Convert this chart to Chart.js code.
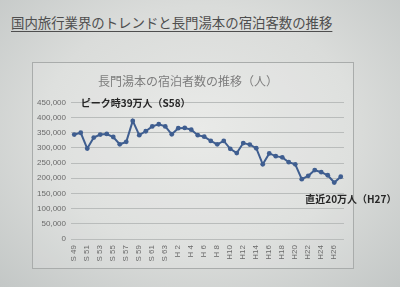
<!DOCTYPE html>
<html>
<head>
<meta charset="utf-8">
<title>長門湯本の宿泊者数の推移</title>
<script src="https://cdn.jsdelivr.net/npm/chart.js"></script>
<style>
  html, body { margin: 0; padding: 0; }
  body {
    width: 400px; height: 287px; overflow: hidden; position: relative;
    background: radial-gradient(ellipse at 50% 45%, #e6e7e5 0%, #dadcda 55%, #c3c7c6 100%);
    font-family: "Noto Sans CJK JP", sans-serif;
  }
  #slideTitle {
    position: absolute; left: 11px; top: 12px;
    font-size: 13.4px; color: #4e4e4e; text-decoration: underline;
    text-underline-offset: 3px; white-space: nowrap; letter-spacing: 0;
  }
  #wrap { position: absolute; left: 0; top: 0; width: 400px; height: 287px; }
</style>
</head>
<body>
<div id="slideTitle">国内旅行業界のトレンドと長門湯本の宿泊客数の推移</div>
<div id="wrap"><canvas id="stayChart" width="400" height="287"></canvas></div>
<script>
// 年度ラベル（昭和49年〜平成27年）
const years = [
  'S 49','S 50','S 51','S 52','S 53','S 54','S 55','S 56','S 57','S 58',
  'S 59','S 60','S 61','S 62','S 63',
  'H 1','H 2','H 3','H 4','H 5','H 6','H 7','H 8','H 9','H10',
  'H11','H12','H13','H14','H15','H16','H17','H18','H19','H20',
  'H21','H22','H23','H24','H25','H26','H27'
];
// 宿泊者数（人）— 図から読み取り
const guests = [
  344000, 350000, 298000, 334000, 344000, 346000, 336000, 312000, 320000, 389000,
  342000, 355000, 371000, 378000, 371000,
  345000, 365000, 366000, 360000, 342000, 337000, 323000, 312000, 323000, 297000,
  283000, 316000, 311000, 299000, 246000, 282000, 273000, 269000, 253000, 246000,
  197000, 208000, 227000, 220000, 210000, 186000, 205000
];
const yTicks = [0, 50000, 100000, 150000, 200000, 250000, 300000, 350000, 400000, 450000];
const peakNote = 'ピーク時39万人（S58）';
const recentNote = '直近20万人（H27）';

const lineBlue = '#3f5e90';

// 枠線と注記
const framePlugin = {
  id: 'frame',
  beforeDraw(chart) {
    const c = chart.ctx;
    c.save();
    c.fillStyle = 'rgba(255,255,255,0.12)';
    c.fillRect(32, 62, 321, 206);
    c.strokeStyle = '#a9acab';
    c.lineWidth = 1;
    c.strokeRect(32.5, 62.5, 321, 206);
    c.restore();
  },
  afterDraw(chart) {
    const c = chart.ctx;
    const x = chart.scales.x, y = chart.scales.y;
    c.save();
    c.fillStyle = '#262626';
    c.font = 'bold 10px "Noto Sans CJK JP", sans-serif';
    c.textBaseline = 'middle';
    c.textAlign = 'left';
    c.fillText(peakNote, x.getPixelForValue(1), y.getPixelForValue(448000));
    c.fillText(recentNote, x.getPixelForValue(36) - 3, y.getPixelForValue(130000));
    c.restore();
  }
};

new Chart(document.getElementById('stayChart'), {
  type: 'line',
  data: {
    labels: years,
    datasets: [{
      data: guests,
      borderColor: lineBlue,
      backgroundColor: lineBlue,
      borderWidth: 2,
      pointRadius: 2.4,
      pointBorderWidth: 0,
      pointBackgroundColor: lineBlue,
      tension: 0
    }]
  },
  options: {
    responsive: false,
    animation: false,
    devicePixelRatio: 1,
    layout: { padding: { left: 32, right: 56, top: 62, bottom: 19 } },
    plugins: {
      legend: { display: false },
      tooltip: { enabled: false },
      title: {
        display: true,
        text: '長門湯本の宿泊者数の推移（人）',
        color: '#7d7d7d',
        font: { family: '"Noto Sans CJK JP", sans-serif', size: 12, weight: 'normal', lineHeight: 1.2 },
        padding: { top: 12, bottom: 14 }
      }
    },
    scales: {
      x: {
        offset: true,
        grid: { display: false, drawTicks: false },
        border: { display: false },
        afterFit(scale) { scale.height = 29; },
        ticks: {
          autoSkip: false,
          minRotation: 90,
          maxRotation: 90,
          padding: 6,
          color: '#6a6a6a',
          font: { family: '"Liberation Sans", sans-serif', size: 8 },
          callback: (v, i) => (i % 2 === 0 ? years[i] : '')
        }
      },
      y: {
        min: 0,
        max: 450000,
        afterFit(scale) { scale.width = 39; },
        afterBuildTicks(scale) { scale.ticks = yTicks.map(v => ({ value: v })); },
        grid: { color: '#b9bcbb', lineWidth: 1, drawTicks: false },
        border: { display: false },
        ticks: {
          padding: 5,
          color: '#6a6a6a',
          font: { family: '"Liberation Sans", sans-serif', size: 8 },
          callback: v => v.toLocaleString('en-US')
        }
      }
    }
  },
  plugins: [framePlugin]
});
</script>
</body>
</html>
